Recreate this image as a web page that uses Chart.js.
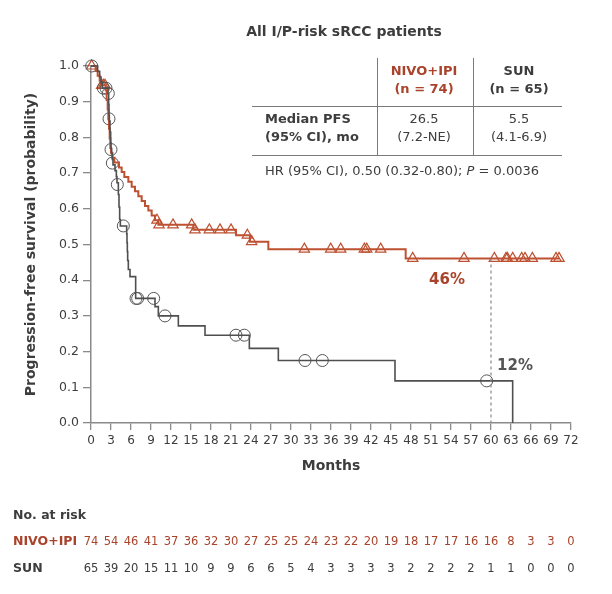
<!DOCTYPE html>
<html><head><meta charset="utf-8">
<script src="https://cdn.jsdelivr.net/npm/chart.js@4.4.1/dist/chart.umd.min.js"></script>
<style>html,body{margin:0;padding:0;background:#fff}#wrap{width:612px;height:594px;position:relative}</style>
</head><body><div id="wrap"><canvas id="c" width="612" height="594"></canvas></div>
<script>
// ---- data ----
const xTickMonths = [0,3,6,9,12,15,18,21,24,27,30,33,36,39,42,45,48,51,54,57,60,63,66,69,72];
const yTickValues = [0,0.1,0.2,0.3,0.4,0.5,0.6,0.7,0.8,0.9,1.0];

// NIVO+IPI Kaplan-Meier steps (month, survival)
const nivoTime = [0,0.7,1.0,1.3,1.5,2.2,2.35,2.5,2.6,2.7,2.8,2.9,3.0,3.2,3.5,4.2,4.6,5.0,5.6,6.1,6.6,7.1,7.6,8.1,8.6,9.1,9.6,10.1,15.35,21.75,23.85,26.6,47.2,70.2];
const nivoSurv = [1.0,0.986,0.973,0.959,0.946,0.932,0.905,0.878,0.851,0.824,0.797,0.770,0.757,0.743,0.730,0.716,0.703,0.689,0.676,0.662,0.649,0.635,0.622,0.608,0.595,0.581,0.568,0.555,0.541,0.526,0.508,0.487,0.461,0.461];
// NIVO+IPI censor marks
const nivoCensTime = [0.1,1.6,1.85,2.1,9.9,10.2,12.3,15.1,15.6,17.75,19.35,21.0,23.45,24.1,32.0,35.95,37.45,41.0,41.35,43.45,48.25,55.95,60.5,62.25,62.45,63.25,64.6,65.1,66.2,69.75,70.2];
const nivoCensSurv = [1.0,0.946,0.946,0.946,0.568,0.555,0.555,0.555,0.541,0.541,0.541,0.541,0.526,0.508,0.487,0.487,0.487,0.487,0.487,0.487,0.461,0.461,0.461,0.461,0.461,0.461,0.461,0.461,0.461,0.461,0.461];

// SUN Kaplan-Meier steps (month, survival)
const sunTime = [0,1.0,1.3,1.5,1.7,2.55,2.65,2.7,2.75,2.85,2.95,3.0,3.1,3.2,3.3,3.6,3.8,3.9,4.1,4.2,4.3,4.4,5.35,5.4,5.45,5.5,5.6,5.85,6.7,9.6,10.1,13.1,17.1,23.75,28.1,45.6,63.25,63.25];
const sunSurv = [1.0,0.985,0.969,0.954,0.938,0.923,0.892,0.862,0.846,0.815,0.785,0.769,0.754,0.738,0.723,0.707,0.690,0.673,0.640,0.605,0.570,0.552,0.530,0.505,0.480,0.455,0.430,0.410,0.349,0.326,0.300,0.272,0.246,0.209,0.175,0.118,0.118,0.0];
// SUN censor marks
const sunCensTime = [0.1,1.85,2.25,2.6,2.7,3.0,3.2,3.95,4.85,6.75,7.0,9.4,11.1,21.75,23.0,32.1,34.7,59.35];
const sunCensSurv = [1.0,0.938,0.938,0.923,0.852,0.766,0.728,0.668,0.552,0.349,0.349,0.349,0.300,0.246,0.246,0.175,0.175,0.118];

// 60-month reference line
const refMonth = 60;
const refLine = [0.461, 0];
const nivoLabel = '46%';
const sunLabel = '12%';

// numbers at risk (every 3 months)
const nivoAtRisk = [74,54,46,41,37,36,32,30,27,25,25,24,23,22,20,19,18,17,17,16,16,8,3,3,0];
const sunAtRisk  = [65,39,20,15,11,10,9,9,6,6,5,4,3,3,3,3,2,2,2,2,1,1,0,0,0];

// ---- styling ----
const RED_LINE = '#bd5131';
const RED_TEXT = '#a9432b';
const DARK = '#3d3d3d';
const GREY_LINE = '#4f4f4f';
const AXIS = '#8a8a8a';
const FONT = '"DejaVu Sans", sans-serif';

const pts = (xs, ys) => xs.map((x, i) => ({x, y: ys[i]}));

const extras = {
  id: 'extras',
  afterDraw(chart) {
    const ctx = chart.ctx;
    const xs = chart.scales.x, ys = chart.scales.y;
    ctx.save();
    // title
    ctx.fillStyle = DARK;
    ctx.font = 'bold 14px ' + FONT;
    ctx.textAlign = 'center'; ctx.textBaseline = 'middle';
    ctx.fillText('All I/P-risk sRCC patients', 344, 32);

    // table lines
    ctx.strokeStyle = '#7a7a7a'; ctx.lineWidth = 1;
    ctx.beginPath();
    ctx.moveTo(377.5, 58); ctx.lineTo(377.5, 155);
    ctx.moveTo(473.5, 58); ctx.lineTo(473.5, 155);
    ctx.moveTo(252, 106.5); ctx.lineTo(562, 106.5);
    ctx.moveTo(252, 155.5); ctx.lineTo(562, 155.5);
    ctx.stroke();

    // header
    ctx.font = 'bold 13px ' + FONT;
    ctx.fillStyle = RED_TEXT;
    ctx.fillText('NIVO+IPI', 424, 72);
    ctx.fillText('(n = 74)', 424, 90);
    ctx.fillStyle = DARK;
    ctx.fillText('SUN', 519, 72);
    ctx.fillText('(n = 65)', 519, 90);
    // row
    ctx.textAlign = 'left';
    ctx.fillText('Median PFS', 265, 120);
    ctx.fillText('(95% CI), mo', 265, 138);
    ctx.font = '13px ' + FONT;
    ctx.textAlign = 'center';
    ctx.fillText('26.5', 424, 120);
    ctx.fillText('(7.2-NE)', 424, 138);
    ctx.fillText('5.5', 519, 120);
    ctx.fillText('(4.1-6.9)', 519, 138);
    // HR line with italic P
    ctx.textAlign = 'left';
    let hx = 265;
    const seg1 = 'HR (95% CI), 0.50 (0.32-0.80); ';
    ctx.fillText(seg1, hx, 172); hx += ctx.measureText(seg1).width;
    ctx.font = 'italic 13px ' + FONT;
    ctx.fillText('P', hx, 172); hx += ctx.measureText('P').width;
    ctx.font = '13px ' + FONT;
    ctx.fillText(' = 0.0036', hx, 172);

    // percentage labels
    ctx.textAlign = 'center';
    ctx.font = 'bold 15px ' + FONT;
    ctx.fillStyle = RED_TEXT;
    ctx.fillText(nivoLabel, xs.getPixelForValue(53.4), ys.getPixelForValue(0.40));
    ctx.fillStyle = '#555555';
    ctx.fillText(sunLabel, xs.getPixelForValue(63.6), ys.getPixelForValue(0.16));

    // at-risk table
    ctx.textAlign = 'left';
    ctx.font = 'bold 12.5px ' + FONT;
    ctx.fillStyle = DARK;
    ctx.fillText('No. at risk', 13, 516);
    ctx.fillStyle = RED_TEXT;
    ctx.fillText('NIVO+IPI', 13, 542);
    ctx.fillStyle = DARK;
    ctx.fillText('SUN', 13, 569);
    ctx.textAlign = 'center';
    ctx.font = '11.5px ' + FONT;
    xTickMonths.forEach((m, i) => {
      const px = xs.getPixelForValue(m);
      ctx.fillStyle = RED_TEXT;
      ctx.fillText(String(nivoAtRisk[i]), px, 542);
      ctx.fillStyle = DARK;
      ctx.fillText(String(sunAtRisk[i]), px, 569);
    });
    ctx.restore();
  }
};

new Chart(document.getElementById('c'), {
  type: 'line',
  data: {
    datasets: [
      { label: 'ref60', data: [{x: refMonth, y: refLine[0]}, {x: refMonth, y: refLine[1]}],
        borderColor: '#888888', borderWidth: 1.2, borderDash: [3, 3], pointRadius: 0, fill: false },
      { label: 'SUN', data: pts(sunTime, sunSurv), stepped: true, clip: false,
        borderColor: GREY_LINE, borderWidth: 1.6, pointRadius: 0, fill: false },
      { label: 'NIVO+IPI', data: pts(nivoTime, nivoSurv), stepped: true, clip: false,
        borderColor: RED_LINE, borderWidth: 2, pointRadius: 0, fill: false },
      { label: 'SUN censored', data: pts(sunCensTime, sunCensSurv), showLine: false, clip: false,
        pointStyle: 'circle', pointRadius: 6, pointBorderWidth: 1,
        pointBorderColor: '#555555', pointBackgroundColor: 'rgba(0,0,0,0)' },
      { label: 'NIVO+IPI censored', data: pts(nivoCensTime, nivoCensSurv), showLine: false, clip: false,
        pointStyle: 'triangle', pointRadius: 6, pointBorderWidth: 1.2,
        pointBorderColor: RED_LINE, pointBackgroundColor: 'rgba(0,0,0,0)' }
    ]
  },
  options: {
    responsive: false,
    animation: false,
    events: [],
    layout: { padding: { left: 0, top: 66, right: 41, bottom: 0 } },
    plugins: { legend: { display: false }, tooltip: { enabled: false }, title: { display: false } },
    scales: {
      x: {
        type: 'linear', min: 0, max: 72,
        afterFit: s => { s.height = 171; },
        afterBuildTicks: s => { s.ticks = xTickMonths.map(v => ({value: v})); },
        ticks: { autoSkip: false, maxRotation: 0, padding: 4, color: DARK,
                 font: { family: FONT, size: 12 } },
        grid: { drawOnChartArea: false, drawTicks: true, tickLength: 7, color: AXIS, lineWidth: 1.3 },
        border: { display: true, color: AXIS, width: 1.5 },
        title: { display: true, text: 'Months', color: DARK,
                 font: { family: FONT, size: 14, weight: 'bold' },
                 padding: { top: 0, bottom: 119.6 } }
      },
      y: {
        type: 'linear', min: 0, max: 1,
        afterFit: s => { s.width = 91; },
        afterBuildTicks: s => { s.ticks = yTickValues.map(v => ({value: v})); },
        ticks: { padding: 4, color: DARK, font: { family: FONT, size: 12.5 },
                 callback: v => Number(v).toFixed(1) },
        grid: { drawOnChartArea: false, drawTicks: true, tickLength: 8, color: AXIS, lineWidth: 1.3 },
        border: { display: true, color: AXIS, width: 1.5 },
        title: { display: true, text: 'Progression-free survival (probability)', color: DARK,
                 font: { family: FONT, size: 14, weight: 'bold' },
                 padding: { top: 23, bottom: 0 } }
      }
    }
  },
  plugins: [extras]
});
</script>
</body></html>
